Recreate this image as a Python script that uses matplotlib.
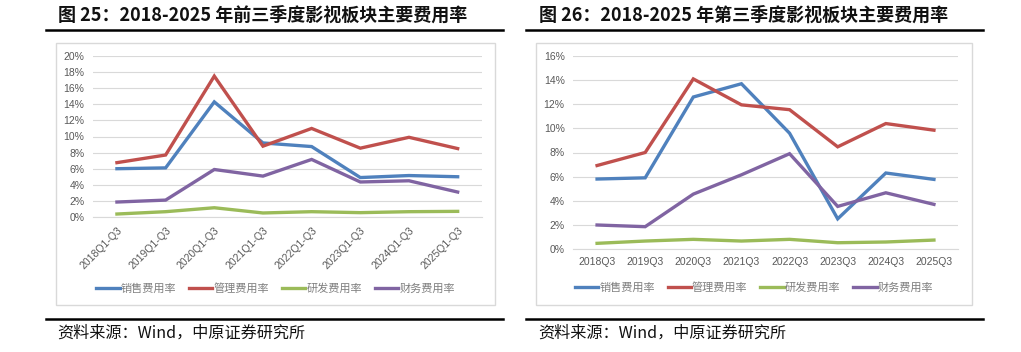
import matplotlib.pyplot as plt
from matplotlib.patches import Rectangle
from matplotlib.lines import Line2D
from matplotlib.ticker import PercentFormatter

plt.rcParams['font.family'] = ['Liberation Sans', 'Noto Sans CJK SC']

W, H = 1021, 352

series_names = ['销售费用率', '管理费用率', '研发费用率', '财务费用率']
colors = ['#4F81BD', '#C0504D', '#9BBB59', '#8064A2']

# chart 25: first three quarters
cats_left = ['2018Q1-Q3', '2019Q1-Q3', '2020Q1-Q3', '2021Q1-Q3',
             '2022Q1-Q3', '2023Q1-Q3', '2024Q1-Q3', '2025Q1-Q3']
sales_left = [6.0, 6.1, 14.3, 9.2, 8.75, 4.9, 5.15, 5.0]
admin_left = [6.75, 7.7, 17.5, 8.8, 11.0, 8.55, 9.9, 8.5]
rnd_left = [0.37, 0.66, 1.15, 0.5, 0.66, 0.54, 0.66, 0.7]
fin_left = [1.86, 2.1, 5.9, 5.08, 7.15, 4.35, 4.5, 3.1]

# chart 26: third quarter
cats_right = ['2018Q3', '2019Q3', '2020Q3', '2021Q3',
              '2022Q3', '2023Q3', '2024Q3', '2025Q3']
sales_right = [5.8, 5.9, 12.6, 13.7, 9.6, 2.5, 6.3, 5.77]
admin_right = [6.92, 8.0, 14.1, 11.95, 11.55, 8.47, 10.4, 9.85]
rnd_right = [0.47, 0.66, 0.8, 0.66, 0.8, 0.52, 0.58, 0.74]
fin_right = [1.99, 1.85, 4.55, 6.15, 7.9, 3.53, 4.66, 3.7]

fig = plt.figure(figsize=(W / 100, H / 100), dpi=100)


def px(x0, y0, x1, y1):
    # pixel box (top-left origin) -> figure fraction rect
    return [x0 / W, 1 - y1 / H, (x1 - x0) / W, (y1 - y0) / H]


def panel(rect, box, rule_x, title, title_x, cats, data, ymax, rot, legend_y):
    # frame around chart
    bx0, by0, bx1, by1 = box
    fig.patches.append(Rectangle((bx0 / W, 1 - by1 / H), (bx1 - bx0) / W, (by1 - by0) / H,
                                 transform=fig.transFigure, fill=False,
                                 edgecolor='#D9D9D9', linewidth=1))
    # black rules
    for y in (29.5, 319):
        fig.add_artist(Line2D([rule_x[0] / W, rule_x[1] / W], [1 - y / H, 1 - y / H],
                              transform=fig.transFigure, color='black', linewidth=1.8))
    fig.text(title_x / W, 1 - 15 / H, title, fontsize=13, fontweight='bold',
             family=['Noto Sans CJK SC'], va='center', ha='left', color='#111111')
    fig.text((title_x - 1) / W, 1 - 333 / H, '资料来源：Wind，中原证券研究所', fontsize=11.6,
             family=['Noto Sans CJK SC'], va='center', ha='left', color='#111111')

    ax = fig.add_axes(rect)
    x = range(len(cats))
    for vals, c, name in zip(data, colors, series_names):
        ax.plot(x, vals, color=c, linewidth=2.4, label=name, solid_joinstyle='miter')
    ax.set_xlim(-0.5, len(cats) - 0.5)
    ax.set_ylim(0, ymax)
    ax.set_yticks(range(0, ymax + 1, 2))
    ax.yaxis.set_major_formatter(PercentFormatter(decimals=0))
    ax.set_xticks(list(x))
    if rot:
        ax.set_xticklabels(cats, rotation=45, ha='right', rotation_mode='anchor')
    else:
        ax.set_xticklabels(cats)
    ax.grid(axis='y', color='#D9D9D9', linewidth=0.8)
    ax.set_axisbelow(True)
    for s in ('top', 'right', 'left'):
        ax.spines[s].set_visible(False)
    ax.spines['bottom'].set_color('#D9D9D9')
    ax.tick_params(length=0, labelsize=7.5, colors='#595959', pad=6)

    handles, labels = ax.get_legend_handles_labels()
    cx = (bx0 + bx1) / 2
    fig.legend(handles, labels, loc='center', bbox_to_anchor=(cx / W, 1 - legend_y / H),
               ncol=4, frameon=False, handlelength=2.1, handletextpad=0.1,
               columnspacing=1.15, labelcolor='#7F7F7F',
               prop={'family': ['Noto Sans CJK SC'], 'size': 8})


panel(px(92.6, 56, 482, 217), (56, 43, 495, 305), (46, 503),
      '图 25：2018-2025 年前三季度影视板块主要费用率', 58,
      cats_left, [sales_left, admin_left, rnd_left, fin_left], 20, True, 288)

panel(px(573, 56, 958, 249), (536, 43, 972, 305), (526, 983),
      '图 26：2018-2025 年第三季度影视板块主要费用率', 539,
      cats_right, [sales_right, admin_right, rnd_right, fin_right], 16, False, 287)

fig.savefig('out.png', dpi=100)
